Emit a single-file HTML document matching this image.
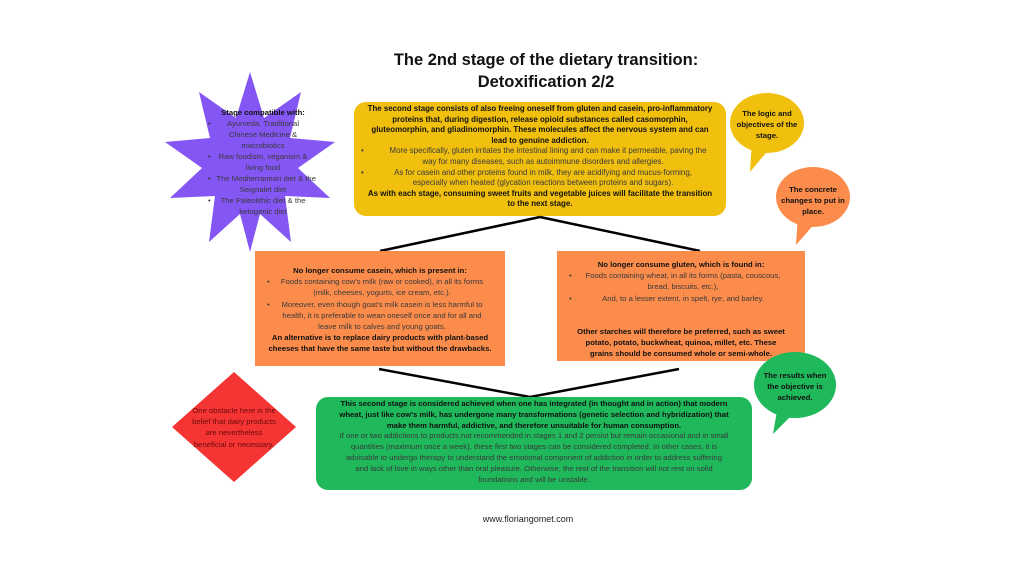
<!DOCTYPE html>
<html><head><meta charset="utf-8"><style>
body{margin:0;width:1024px;height:576px;background:#fff;position:relative;overflow:hidden;font-family:"Liberation Sans",sans-serif;color:#222}
.a{position:absolute}
.t{font-size:7.7px;line-height:11.2px;text-align:center;white-space:nowrap}
.b{font-weight:bold;color:#111}
.li{position:relative}
.li:before{content:"•";position:absolute;left:3px;top:0}
.n{color:#3a3a3a}
</style></head><body>
<svg class="a" style="left:0;top:0" width="1024" height="576">
<polygon fill="#8456f4" points="250,72 264,118 301,92 290,138 335,142 298,168 330,198 285,196 291,242 260,214 250,252 240,214 209,242 215,196 170,198 202,168 165,142 210,138 199,92 236,118"/>
<rect x="354" y="102" width="372" height="114" rx="12" fill="#f1c00f"/>
<ellipse cx="767" cy="123" rx="37" ry="30" fill="#f1c00f"/><polygon points="752,140 770,148 750,172" fill="#f1c00f"/>
<ellipse cx="813" cy="197" rx="37" ry="30" fill="#fb8c4c"/><polygon points="798,214 816,222 796,245" fill="#fb8c4c"/>
<line x1="540" y1="217" x2="380" y2="251" stroke="#000" stroke-width="2.5"/>
<line x1="540" y1="217" x2="700" y2="251" stroke="#000" stroke-width="2.5"/>
<rect x="255" y="251" width="250" height="115" fill="#fb8c4c"/>
<rect x="557" y="251" width="248" height="110" fill="#fb8c4c"/>
<line x1="379" y1="369" x2="530" y2="397" stroke="#000" stroke-width="2.5"/>
<line x1="679" y1="369" x2="530" y2="397" stroke="#000" stroke-width="2.5"/>
<rect x="316" y="397" width="436" height="93" rx="12" fill="#1fb85a"/>
<ellipse cx="795" cy="385" rx="41" ry="33" fill="#1fb85a"/><polygon points="778,405 795,412 773,434" fill="#1fb85a"/>
<polygon points="234,372 296,427 234,482 172,427" fill="#f53434"/>
</svg>
<div class="a b" style="left:346px;top:49px;width:400px;text-align:center;font-size:16.5px;line-height:22px;color:#111">The 2nd stage of the dietary transition:<br>Detoxification 2/2</div>
<div class="a t" style="left:205px;top:107px;width:116px;line-height:11px"><div class="b">Stage compatible with:</div>
<div class="li n">Ayurveda, Traditional<br>Chinese Medicine &amp;<br>macrobiotics</div>
<div class="li n">Raw foodism, veganism &amp;<br>living food</div>
<div class="li n">&nbsp;&nbsp;&nbsp;The Mediterranean diet &amp; the<br>Seignalet diet</div>
<div class="li n">The Paleolithic diet &amp; the<br>ketogenic diet</div></div>
<div class="a t" style="left:340px;top:104px;width:400px;font-size:7.9px;line-height:10.6px"><div class="b">The second stage consists of also freeing oneself from gluten and casein, pro-inflammatory<br>proteins that, during digestion, release opioid substances called casomorphin,<br>gluteomorphin, and gliadinomorphin. These molecules affect the nervous system and can<br>lead to genuine addiction.</div>
<div class="li n" style="margin-left:18px;width:370px"><span style="margin-left:10px">More specifically, gluten irritates the intestinal lining and can make it permeable, paving the</span><br>way for many diseases, such as autoimmune disorders and allergies.</div>
<div class="li n" style="margin-left:18px;width:370px">As for casein and other proteins found in milk, they are acidifying and mucus-forming,<br>especially when heated (glycation reactions between proteins and sugars).</div>
<div class="b">As with each stage, consuming sweet fruits and vegetable juices will facilitate the transition<br>to the next stage.</div></div>
<div class="a t b" style="left:735px;top:108px;width:64px">The logic and<br>objectives of the<br>stage.</div>
<div class="a t b" style="left:780px;top:184px;width:66px">The concrete<br>changes to put in<br>place.</div>
<div class="a t" style="left:256px;top:265px;width:248px"><div class="b">No longer consume casein, which is present in:</div>
<div class="li n" style="margin-left:8px;width:236px">Foods containing cow's milk (raw or cooked), in all its forms<br>(milk, cheeses, yogurts, ice cream, etc.).</div>
<div class="li n" style="margin-left:8px;width:236px">Moreover, even though goat's milk casein is less harmful to<br>health, it is preferable to wean oneself once and for all and<br>leave milk to calves and young goats.</div>
<div class="b">An alternative is to replace dairy products with plant-based<br>cheeses that have the same taste but without the drawbacks.</div></div>
<div class="a t" style="left:558px;top:259px;width:246px"><div class="b">No longer consume gluten, which is found in:</div>
<div class="li n" style="margin-left:8px;width:234px">Foods containing wheat, in all its forms (pasta, couscous,<br>bread, biscuits, etc.),</div>
<div class="li n" style="margin-left:8px;width:234px">And, to a lesser extent, in spelt, rye, and barley.</div>
<div style="height:22px"></div>
<div class="b">Other starches will therefore be preferred, such as sweet<br>potato, potato, buckwheat, quinoa, millet, etc. These<br>grains should be consumed whole or semi-whole.</div></div>
<div class="a t" style="left:318px;top:399px;width:432px;line-height:10.8px"><div class="b">This second stage is considered achieved when one has integrated (in thought and in action) that modern<br>wheat, just like cow's milk, has undergone many transformations (genetic selection and hybridization) that<br>make them harmful, addictive, and therefore unsuitable for human consumption.</div>
<div class="n">If one or two addictions to products not recommended in stages 1 and 2 persist but remain occasional and in small<br>quantities (maximum once a week), these first two stages can be considered completed. In other cases, it is<br>advisable to undergo therapy to understand the emotional component of addiction in order to address suffering<br>and lack of love in ways other than oral pleasure. Otherwise, the rest of the transition will not rest on solid<br>foundations and will be unstable.</div></div>
<div class="a t b" style="left:755px;top:370px;width:80px">The results when<br>the objective is<br>achieved.</div>
<div class="a t" style="left:184px;top:405px;width:100px;color:#6b0b0b">One obstacle here is the<br>belief that dairy products<br>are nevertheless<br>beneficial or necessary.</div>
<div class="a" style="left:428px;top:514px;width:200px;text-align:center;font-size:9px">www.floriangomet.com</div>
</body></html>
